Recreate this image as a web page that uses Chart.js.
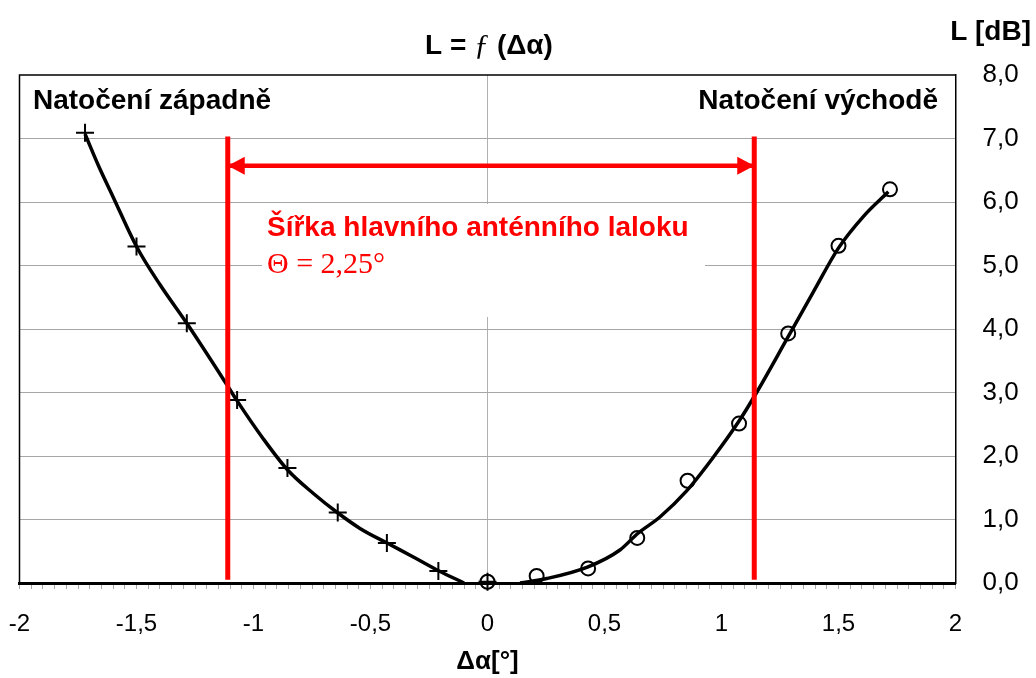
<!DOCTYPE html>
<html>
<head>
<meta charset="utf-8">
<script src="https://cdn.jsdelivr.net/npm/chart.js@4.4.0/dist/chart.umd.min.js"></script>
<style>
  html, body { margin: 0; padding: 0; background: #fff; }
</style>
</head>
<body>
<canvas id="chart" width="1036" height="678"></canvas>
<script>
// Naměřené body (západ = křížky, východ = kroužky)
const westAngle = [-1.72, -1.5, -1.285, -1.07, -0.855, -0.64, -0.43, -0.21, 0];
const westLoss  = [7.09, 5.30, 4.09, 2.88, 1.81, 1.11, 0.63, 0.19, 0.02];
const eastAngle = [0, 0.21, 0.43, 0.64, 0.855, 1.075, 1.285, 1.5, 1.72];
const eastLoss  = [0.02, 0.11, 0.23, 0.71, 1.61, 2.51, 3.93, 5.31, 6.20];

// Proložené křivky
const westFitAngle = [-1.72, -1.66, -1.60, -1.50, -1.40, -1.285, -1.122, -1.072, -0.96, -0.854, -0.744, -0.642, -0.545, -0.427, -0.317, -0.207, -0.10];
const westFitLoss  = [7.07, 6.55, 6.08, 5.30, 4.70, 4.09, 3.17, 2.88, 2.28, 1.78, 1.41, 1.11, 0.86, 0.625, 0.41, 0.19, 0.0];
const eastFitAngle = [0.139, 0.253, 0.427, 0.566, 0.642, 0.737, 0.851, 0.965, 1.075, 1.15, 1.285, 1.392, 1.499, 1.606, 1.713];
const eastFitLoss  = [0.0, 0.07, 0.25, 0.52, 0.78, 1.04, 1.45, 1.98, 2.55, 3.00, 3.88, 4.58, 5.27, 5.77, 6.16];

// Šířka laloku
const beamEdges = [-1.11, 1.14];
const beamLineLoss = [0.05, 7.03];
const arrowLoss = 6.57;

// Osy
const xMin = -2, xMax = 2, xStep = 0.05, xLabelStep = 0.5;
const yMin = 0, yMax = 8, yStep = 1;

const SANS = "'Liberation Sans', Arial, sans-serif";
const SERIF = "'Liberation Serif', 'Times New Roman', serif";
const RED = '#ff0000';

const pts = (xs, ys) => xs.map((x, i) => ({ x: x, y: ys[i] }));
const comma = v => String(Math.round(v * 10) / 10).replace('.', ',');

// -------------------------------------
// Popisky, šipka, rámeček
// -------------------------------------
const decorPlugin = {
  id: 'decor',
  beforeDatasetsDraw(chart) {
    const ctx = chart.ctx;
    // bílé pozadí pod červeným textem
    ctx.save();
    ctx.fillStyle = '#fff';
    ctx.fillRect(262, 204, 443, 113);
    ctx.restore();
  },
  afterDatasetsDraw(chart) {
    const ctx = chart.ctx;
    // hroty šipky
    const meta = chart.getDatasetMeta(2);
    const p0 = meta.data[0], p1 = meta.data[1];
    ctx.save();
    ctx.fillStyle = RED;
    ctx.beginPath();
    ctx.moveTo(p0.x, p0.y);
    ctx.lineTo(p0.x + 17, p0.y - 9);
    ctx.lineTo(p0.x + 17, p0.y + 9);
    ctx.closePath();
    ctx.fill();
    ctx.beginPath();
    ctx.moveTo(p1.x, p1.y);
    ctx.lineTo(p1.x - 17, p1.y - 9);
    ctx.lineTo(p1.x - 17, p1.y + 9);
    ctx.closePath();
    ctx.fill();

    // texty
    ctx.textBaseline = 'middle';
    ctx.fillStyle = RED;
    ctx.textAlign = 'left';
    ctx.font = 'bold 28px ' + SANS;
    ctx.fillText('Šířka hlavního anténního laloku', 267, 228);
    ctx.font = '30px ' + SERIF;
    ctx.fillText('Θ = 2,25°', 267, 265);

    ctx.fillStyle = '#000';
    ctx.font = 'bold 28px ' + SANS;
    ctx.fillText('Natočení západně', 33, 101);
    ctx.textAlign = 'right';
    ctx.fillText('Natočení východě', 938, 101);
    ctx.restore();
  },
  afterDraw(chart) {
    const ctx = chart.ctx;
    const ca = chart.chartArea;
    ctx.save();
    // horní a levý okraj
    ctx.strokeStyle = '#000';
    ctx.lineWidth = 1.5;
    ctx.beginPath();
    ctx.moveTo(ca.left, ca.bottom);
    ctx.lineTo(ca.left, ca.top);
    ctx.lineTo(ca.right, ca.top);
    ctx.stroke();

    // nadpis L = f(Δα) se smíšenými fonty
    const parts = [
      { t: 'L = ', f: 'bold 28px ' + SANS },
      { t: 'ƒ', f: 'italic 30px ' + SERIF },
      { t: ' (Δα)', f: 'bold 28px ' + SANS }
    ];
    let total = 0;
    parts.forEach(p => { ctx.font = p.f; p.w = ctx.measureText(p.t).width; total += p.w; });
    let x = 489 - total / 2;
    ctx.fillStyle = '#000';
    ctx.textBaseline = 'middle';
    ctx.textAlign = 'left';
    parts.forEach(p => { ctx.font = p.f; ctx.fillText(p.t, x, 46); x += p.w; });

    // jednotka osy y
    ctx.font = 'bold 28px ' + SANS;
    ctx.textAlign = 'right';
    ctx.fillText('L [dB]', 1031, 32);
    ctx.restore();
  }
};

const chart = new Chart(document.getElementById('chart'), {
  type: 'scatter',
  data: {
    datasets: [
      { data: pts([beamEdges[0], beamEdges[0]], beamLineLoss), showLine: true, borderColor: RED, borderWidth: 5, pointRadius: 0, order: 0, clip: false },
      { data: pts([beamEdges[1], beamEdges[1]], beamLineLoss), showLine: true, borderColor: RED, borderWidth: 5, pointRadius: 0, order: 0, clip: false },
      { data: pts(beamEdges, [arrowLoss, arrowLoss]), showLine: true, borderColor: RED, borderWidth: 4.5, pointRadius: 0, order: 0 },
      { data: pts(westFitAngle, westFitLoss), showLine: true, borderColor: '#000', borderWidth: 3.5, pointRadius: 0, cubicInterpolationMode: 'monotone', order: 1, clip: false },
      { data: pts(eastFitAngle, eastFitLoss), showLine: true, borderColor: '#000', borderWidth: 3.5, pointRadius: 0, cubicInterpolationMode: 'monotone', order: 1, clip: false },
      { data: pts(westAngle, westLoss), pointStyle: 'cross', pointRadius: 9, borderColor: '#000', borderWidth: 2, order: 2, clip: false },
      { data: pts(eastAngle, eastLoss), pointStyle: 'circle', pointRadius: 7, borderColor: '#000', backgroundColor: 'rgba(0,0,0,0)', borderWidth: 2, order: 2, clip: false }
    ]
  },
  options: {
    responsive: false,
    animation: false,
    events: [],
    devicePixelRatio: 1,
    layout: { padding: { left: 19.5, top: 75, right: 0, bottom: 0 } },
    plugins: { legend: { display: false }, tooltip: { enabled: false }, title: { display: false } },
    scales: {
      x: {
        type: 'linear',
        min: xMin, max: xMax,
        afterFit(scale) {
          scale.height = 95;
          scale.paddingLeft = 0;
          scale.paddingRight = 0;
        },
        border: { display: true, color: '#000', width: 3 },
        grid: {
          color: c => (c.tick && Math.abs(c.tick.value) < 1e-9) ? '#b0b0b0' : 'rgba(0,0,0,0)',
          tickColor: '#a8a8a8',
          tickLength: 6,
          lineWidth: 1
        },
        ticks: {
          stepSize: xStep,
          autoSkip: false,
          maxRotation: 0,
          padding: 21,
          color: '#000',
          font: { family: SANS, size: 24 },
          callback: v => {
            const r = v / xLabelStep;
            return Math.abs(r - Math.round(r)) < 1e-6 ? comma(v) : '';
          }
        },
        title: {
          display: true,
          text: 'Δα[°]',
          color: '#000',
          font: { family: SANS, size: 26, weight: 'bold' },
          padding: { top: 0, bottom: 1 }
        }
      },
      y: {
        type: 'linear',
        position: 'right',
        min: yMin, max: yMax,
        afterFit(scale) { scale.width = 80.5; },
        border: { display: true, color: '#000', width: 1.5 },
        grid: {
          drawTicks: false,
          color: c => (c.tick && c.tick.value > yMin && c.tick.value < yMax) ? '#a6a6a6' : 'rgba(0,0,0,0)',
          lineWidth: 1
        },
        ticks: {
          stepSize: yStep,
          padding: 27,
          color: '#000',
          font: { family: SANS, size: 26 },
          callback: v => v.toFixed(1).replace('.', ',')
        }
      }
    }
  },
  plugins: [decorPlugin]
});
</script>
</body>
</html>
